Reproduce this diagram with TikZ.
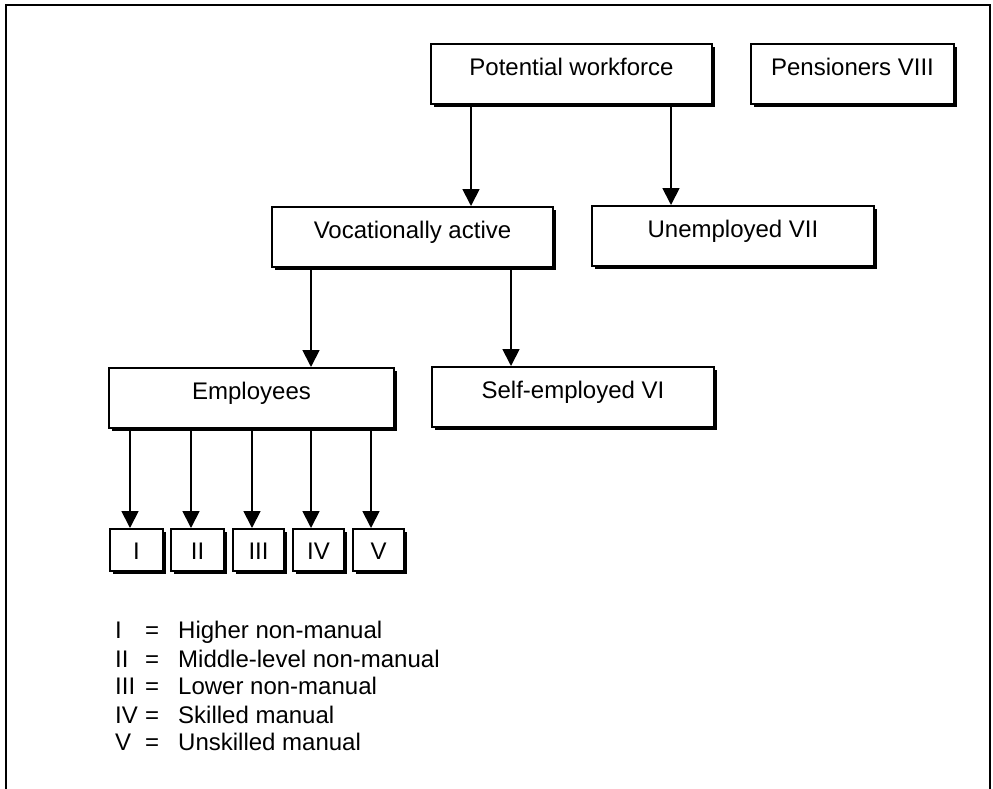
\documentclass[tikz,border=0pt]{standalone}
\usepackage{fontspec}
\setmainfont{Liberation Sans}
\usetikzlibrary{arrows.meta,shadows,calc}
\begin{document}
\begin{tikzpicture}[x=1pt,y=-1pt,
 box/.style={draw,line width=2pt,fill=white,anchor=north west,inner xsep=0pt,inner ysep=0pt,
   text height=31pt,text depth=29pt,font=\fontsize{24}{28}\selectfont,
   drop shadow={shadow xshift=3pt,shadow yshift=-3pt,fill=black,opacity=1}},
 sbox/.style={box,text height=30pt,text depth=12pt},
 arr/.style={line width=1.8pt,-{Triangle[length=17pt,width=17pt]}},
 leg/.style={anchor=base west,inner sep=0pt,font=\fontsize{24}{28}\selectfont}]
\useasboundingbox (0,0) rectangle (993,788);
\begin{scope}
\clip (0,0) rectangle (993,788);
\draw[line width=2pt] (6,800) -- (6,5) -- (990,5) -- (990,800);
\end{scope}
% boxes
\node[box,minimum width=281pt] (pw) at (430,43) {Potential workforce};
\node[box,minimum width=203pt] (pen) at (750,43) {Pensioners VIII};
\node[box,minimum width=281pt] (va) at (271,206) {Vocationally active};
\node[box,minimum width=282pt] (un) at (591,205) {Unemployed VII};
\node[box,minimum width=285pt] (emp) at (108,367) {Employees};
\node[box,minimum width=282pt] (se) at (431,366) {Self-employed VI};
\node[sbox,minimum width=53pt] (c1) at (109,528) {I};
\node[sbox,minimum width=53pt] (c2) at (170,528) {II};
\node[sbox,minimum width=51pt] (c3) at (232,528) {III};
\node[sbox,minimum width=51pt] (c4) at (292,528) {IV};
\node[sbox,minimum width=51pt] (c5) at (352,528) {V};
% connectors
\coordinate (a1) at ($(pw.south west)+(41,0)$);
\coordinate (a2) at ($(pw.south west)+(241,0)$);
\coordinate (b1) at ($(va.south west)+(40,0)$);
\coordinate (b2) at ($(va.south west)+(240,0)$);
\coordinate (e1) at ($(emp.south west)+(22,0)$);
\coordinate (e2) at ($(emp.south west)+(83,0)$);
\coordinate (e3) at ($(emp.south west)+(144,0)$);
\coordinate (e4) at ($(emp.south west)+(203,0)$);
\coordinate (e5) at ($(emp.south west)+(263,0)$);
\draw[arr] (a1) -- (a1 |- va.north);
\draw[arr] (a2) -- (a2 |- un.north);
\draw[arr] (b1) -- (b1 |- emp.north);
\draw[arr] (b2) -- (b2 |- se.north);
\draw[arr] (e1) -- (e1 |- c1.north);
\draw[arr] (e2) -- (e2 |- c2.north);
\draw[arr] (e3) -- (e3 |- c3.north);
\draw[arr] (e4) -- (e4 |- c4.north);
\draw[arr] (e5) -- (e5 |- c5.north);
% legend
\node[leg] (l1a) at (115,638) {I};
\node[leg] (l1b) at (145,638) {=};
\node[leg] (l1c) at (178,638) {Higher non-manual};
\node[leg] (l2a) at (115,667) {II};
\node[leg] (l2b) at (145,667) {=};
\node[leg] (l2c) at (178,667) {Middle-level non-manual};
\node[leg] (l3a) at (115,694) {III};
\node[leg] (l3b) at (145,694) {=};
\node[leg] (l3c) at (178,694) {Lower non-manual};
\node[leg] (l4a) at (115,723) {IV};
\node[leg] (l4b) at (145,723) {=};
\node[leg] (l4c) at (178,723) {Skilled manual};
\node[leg] (l5a) at (115,750) {V};
\node[leg] (l5b) at (145,750) {=};
\node[leg] (l5c) at (178,750) {Unskilled manual};
\end{tikzpicture}
\end{document}
